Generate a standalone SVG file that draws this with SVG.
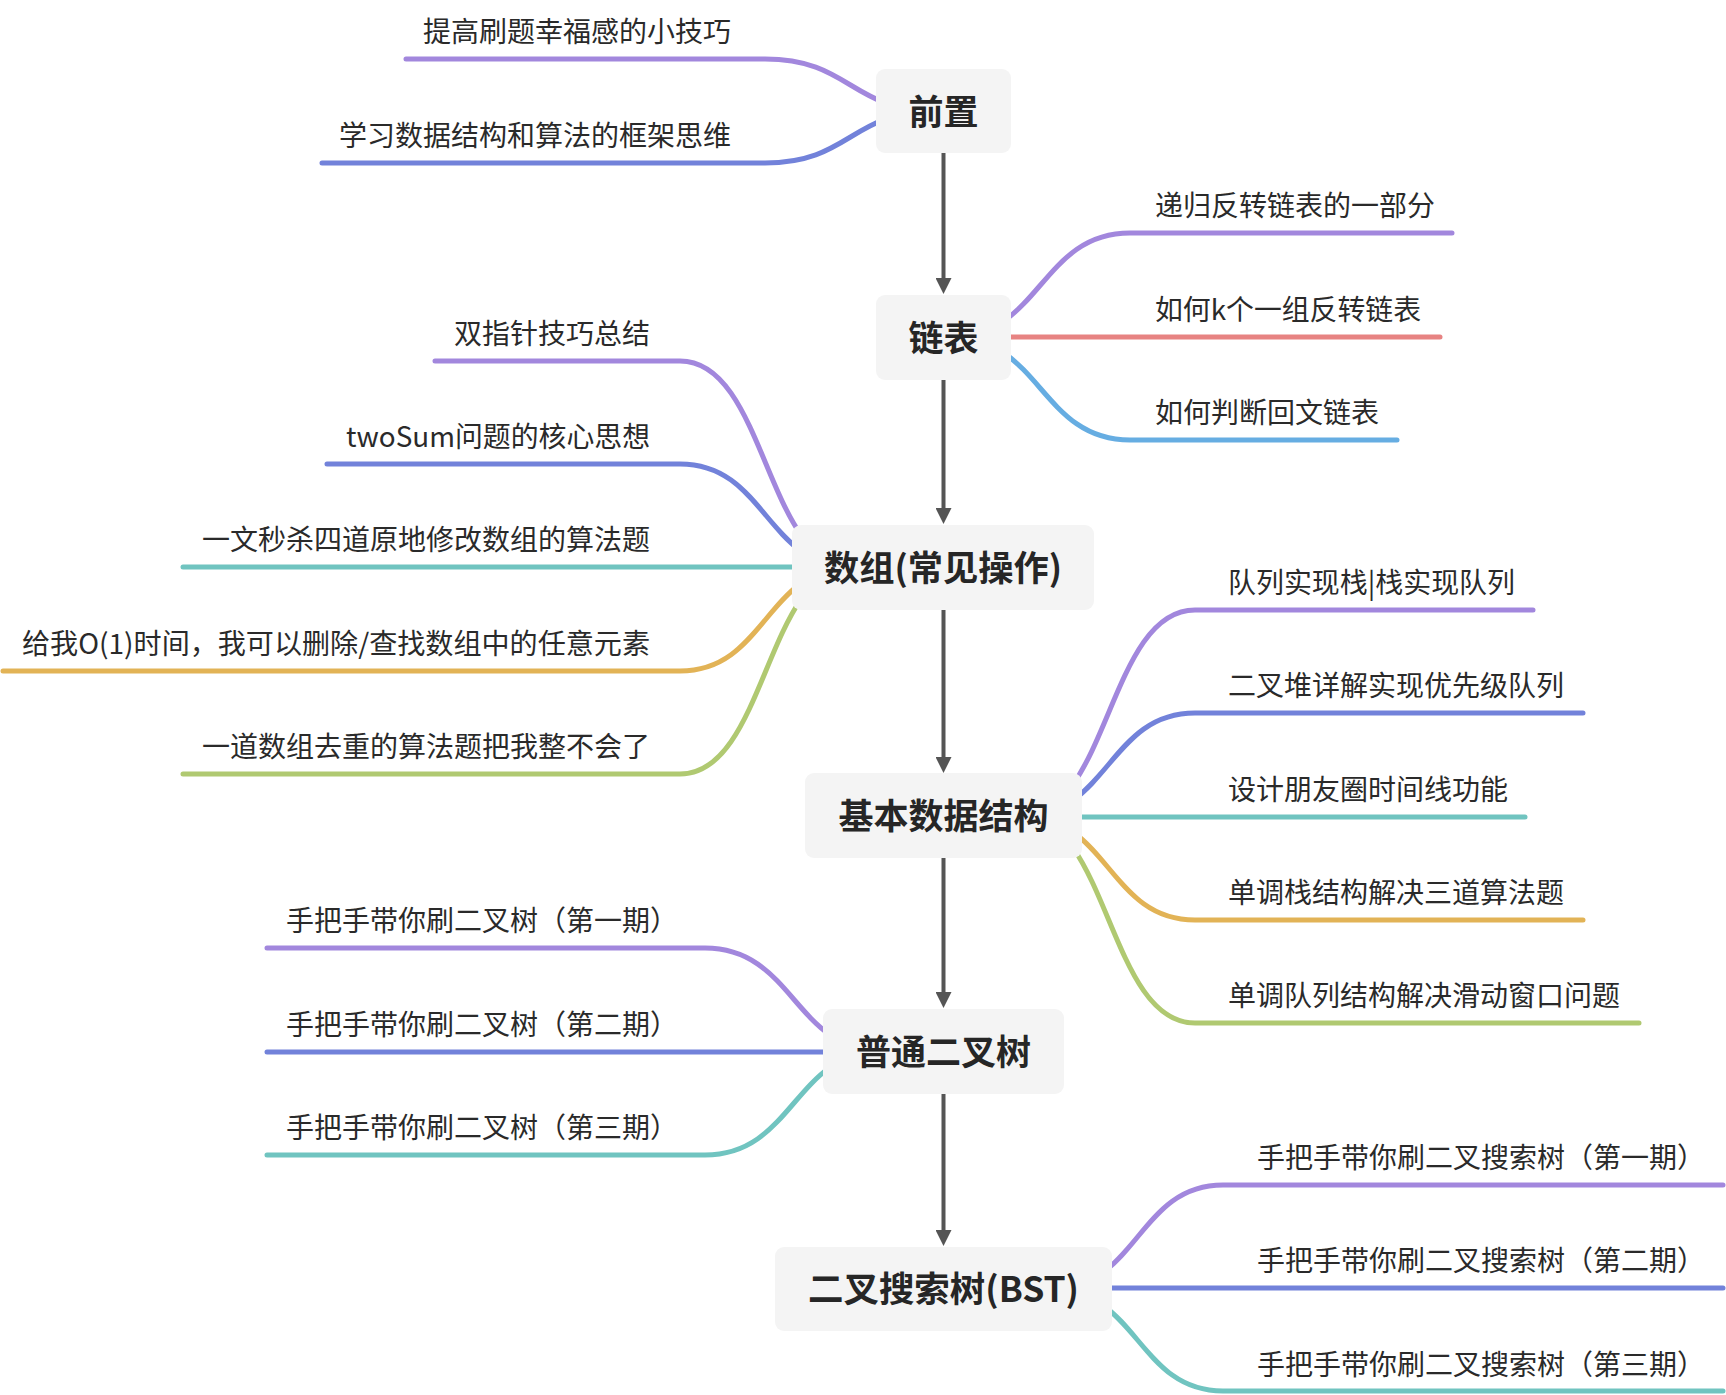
<svg xmlns="http://www.w3.org/2000/svg" width="1726" height="1395" viewBox="0 0 1726 1395">
<style>
.node rect{fill:#f4f4f4}
.node text{font-family:"Noto Sans CJK SC","Noto Sans",sans-serif;font-size:35px;font-weight:bold;fill:#262626;text-anchor:middle}
.leaf text{font-family:"Noto Sans CJK SC","Noto Sans",sans-serif;font-size:28px;fill:#2a2a2a}
.leaf.l text{text-anchor:end}
.br{fill:none;stroke-width:5;stroke-linecap:round}
.pu{stroke:#a287dd}.bl{stroke:#7282da}.rd{stroke:#e78382}.lb{stroke:#66ade2}.te{stroke:#70c4c0}.or{stroke:#e2b356}.gr{stroke:#b0c971}
.arr{stroke:#555;stroke-width:4;fill:none}
</style>
<defs>
<marker id="ah" viewBox="0 0 16 16" refX="2" refY="8" markerWidth="16" markerHeight="16" markerUnits="userSpaceOnUse" orient="auto">
<path d="M0,0 L16,8 L0,16 z" fill="#555"/>
</marker>
</defs>
<rect width="1726" height="1395" fill="#ffffff"/>
<g id="connectors">
<path class="br pu" d="M936 111 C850.5 111 850.5 59 765 59 L406 59"/>
<path class="br bl" d="M936 111 C850.5 111 850.5 163 765 163 L322 163"/>
<path class="br pu" d="M951 337 C1040.5 337 1040.5 233 1130 233 L1452 233"/>
<path class="br rd" d="M1011 337 L1440 337"/>
<path class="br lb" d="M951 337 C1040.5 337 1040.5 440 1130 440 L1397 440"/>
<path class="br pu" d="M852 567 C766 567 766 361 680 361 L435 361"/>
<path class="br bl" d="M852 567 C766 567 766 464 680 464 L327 464"/>
<path class="br te" d="M792 567 L183 567"/>
<path class="br or" d="M852 567 C766 567 766 671 680 671 L3 671"/>
<path class="br gr" d="M852 567 C766 567 766 774 680 774 L183 774"/>
<path class="br pu" d="M1022 816 C1108.5 816 1108.5 610 1195 610 L1533 610"/>
<path class="br bl" d="M1022 816 C1108.5 816 1108.5 713 1195 713 L1583 713"/>
<path class="br te" d="M1082 817 L1525 817"/>
<path class="br or" d="M1022 816 C1108.5 816 1108.5 920 1195 920 L1583 920"/>
<path class="br gr" d="M1022 816 C1108.5 816 1108.5 1023 1195 1023 L1639 1023"/>
<path class="br pu" d="M883 1051 C794 1051 794 948 705 948 L267 948"/>
<path class="br bl" d="M823 1052 L267 1052"/>
<path class="br te" d="M883 1051 C794 1051 794 1155 705 1155 L267 1155"/>
<path class="br pu" d="M1052 1289 C1137.5 1289 1137.5 1185 1223 1185 L1723 1185"/>
<path class="br bl" d="M1112 1288 L1723 1288"/>
<path class="br te" d="M1052 1289 C1137.5 1289 1137.5 1391 1223 1391 L1723 1391"/>
<line class="arr" x1="943.5" y1="153" x2="943.5" y2="280" marker-end="url(#ah)"/>
<line class="arr" x1="943.5" y1="380" x2="943.5" y2="510" marker-end="url(#ah)"/>
<line class="arr" x1="943.5" y1="610" x2="943.5" y2="759" marker-end="url(#ah)"/>
<line class="arr" x1="943.5" y1="858" x2="943.5" y2="994" marker-end="url(#ah)"/>
<line class="arr" x1="943.5" y1="1094" x2="943.5" y2="1232" marker-end="url(#ah)"/>
</g>
<g id="n-qianzhi" class="node"><rect x="876" y="69" width="135" height="84" rx="9"/><text x="943.5" y="124.5">前置</text></g>
<g id="n-lianbiao" class="node"><rect x="876" y="295" width="135" height="85" rx="9"/><text x="943.5" y="350.5">链表</text></g>
<g id="n-shuzu" class="node"><rect x="792" y="525" width="302" height="85" rx="9"/><text x="943" y="580.5" textLength="238" lengthAdjust="spacingAndGlyphs">数组(常见操作)</text></g>
<g id="n-jiben" class="node"><rect x="805" y="773" width="277" height="85" rx="9"/><text x="943.5" y="828.5">基本数据结构</text></g>
<g id="n-putong" class="node"><rect x="823" y="1009" width="241" height="85" rx="9"/><text x="943.5" y="1064.5">普通二叉树</text></g>
<g id="n-bst" class="node"><rect x="775" y="1247" width="337" height="84" rx="9"/><text x="943.5" y="1302" textLength="271" lengthAdjust="spacingAndGlyphs">二叉搜索树(BST)</text></g>
<g id="l-q1" class="leaf l"><text x="731" y="42">提高刷题幸福感的小技巧</text></g>
<g id="l-q2" class="leaf l"><text x="731" y="146">学习数据结构和算法的框架思维</text></g>
<g id="l-l1" class="leaf"><text x="1155" y="216">递归反转链表的一部分</text></g>
<g id="l-l2" class="leaf"><text x="1155" y="320" textLength="266" lengthAdjust="spacingAndGlyphs">如何k个一组反转链表</text></g>
<g id="l-l3" class="leaf"><text x="1155" y="423">如何判断回文链表</text></g>
<g id="l-s1" class="leaf l"><text x="650" y="344">双指针技巧总结</text></g>
<g id="l-s2" class="leaf l"><text x="650" y="447" textLength="304" lengthAdjust="spacingAndGlyphs">twoSum问题的核心思想</text></g>
<g id="l-s3" class="leaf l"><text x="650" y="550">一文秒杀四道原地修改数组的算法题</text></g>
<g id="l-s4" class="leaf l"><text x="650" y="654" textLength="628" lengthAdjust="spacingAndGlyphs">给我O(1)时间，我可以删除/查找数组中的任意元素</text></g>
<g id="l-s5" class="leaf l"><text x="650" y="757">一道数组去重的算法题把我整不会了</text></g>
<g id="l-j1" class="leaf"><text x="1228" y="593" textLength="287" lengthAdjust="spacingAndGlyphs">队列实现栈|栈实现队列</text></g>
<g id="l-j2" class="leaf"><text x="1228" y="696">二叉堆详解实现优先级队列</text></g>
<g id="l-j3" class="leaf"><text x="1228" y="800">设计朋友圈时间线功能</text></g>
<g id="l-j4" class="leaf"><text x="1228" y="903">单调栈结构解决三道算法题</text></g>
<g id="l-j5" class="leaf"><text x="1228" y="1006">单调队列结构解决滑动窗口问题</text></g>
<g id="l-p1" class="leaf l"><text x="678" y="931">手把手带你刷二叉树（第一期）</text></g>
<g id="l-p2" class="leaf l"><text x="678" y="1035">手把手带你刷二叉树（第二期）</text></g>
<g id="l-p3" class="leaf l"><text x="678" y="1138">手把手带你刷二叉树（第三期）</text></g>
<g id="l-b1" class="leaf"><text x="1257" y="1168">手把手带你刷二叉搜索树（第一期）</text></g>
<g id="l-b2" class="leaf"><text x="1257" y="1271">手把手带你刷二叉搜索树（第二期）</text></g>
<g id="l-b3" class="leaf"><text x="1257" y="1375">手把手带你刷二叉搜索树（第三期）</text></g>
</svg>
